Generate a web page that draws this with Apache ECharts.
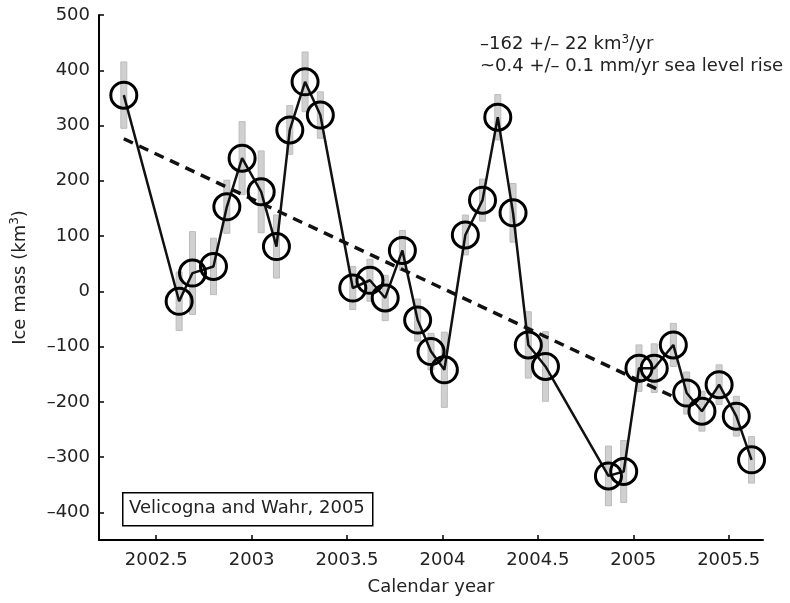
<!DOCTYPE html>
<html>
<head>
<meta charset="utf-8">
<script src="https://cdn.jsdelivr.net/npm/echarts@6/dist/echarts.min.js"></script>
<style>
html,body{margin:0;padding:0;background:#fff;}
#chart{width:790px;height:603px;}
</style>
</head>
<body>
<div id="chart"></div>
<script>
// ---- data ----
var years = [2002.33, 2002.62, 2002.69, 2002.80, 2002.87, 2002.95, 2003.05, 2003.13, 2003.20, 2003.28, 2003.36,
             2003.53, 2003.62, 2003.70, 2003.79, 2003.87, 2003.94, 2004.01, 2004.12, 2004.21, 2004.29, 2004.37,
             2004.45, 2004.54, 2004.87, 2004.95, 2005.03, 2005.11, 2005.21, 2005.28, 2005.36, 2005.45, 2005.54, 2005.62];
var mass = [355, -18, 33, 45, 153, 241, 180, 81, 292, 379, 319,
            6, 20, -12, 74, -52, -109, -142, 102, 165, 315, 142,
            -97, -136, -334, -326, -139, -139, -97, -184, -217, -169, -226, -305];
var errors = [60, 53, 75, 51, 48, 66, 74, 57, 44, 54, 42,
              39, 38, 41, 36, 38, 33, 68, 36, 38, 41, 53,
              60, 63, 54, 56, 42, 44, 39, 38, 36, 36, 36, 42];
var trendYears = [2002.33, 2005.2];
var trendMass = [276, -189];
var xTicks = [2002.5, 2003, 2003.5, 2004, 2004.5, 2005, 2005.5];
var xTickLabels = ['2002.5', '2003', '2003.5', '2004', '2004.5', '2005', '2005.5'];
var yTicks = [-400, -300, -200, -100, 0, 100, 200, 300, 400, 500];
var annotation1 = '\u2013162 +/\u2013 22 km{sup|3}/yr';
var annotation2 = '~0.4 +/\u2013 0.1 mm/yr sea level rise';
var sourceLabel = 'Velicogna and Wahr, 2005';

var FONT = 'DejaVu Sans';
var points = years.map(function (y, i) { return [y, mass[i]]; });
var bars = years.map(function (y, i) { return [y, mass[i] - errors[i], mass[i] + errors[i]]; });
var trend = trendYears.map(function (y, i) { return [y, trendMass[i]]; });

var chart = echarts.init(document.getElementById('chart'), null, {renderer: 'canvas'});
chart.setOption({
  backgroundColor: '#fff',
  animation: false,
  grid: {left: 99, right: 27, top: 15, bottom: 63, containLabel: false},
  xAxis: {
    type: 'value', min: 2002.2, max: 2005.68,
    name: 'Calendar year', nameLocation: 'middle', nameGap: 38,
    nameTextStyle: {fontFamily: FONT, fontSize: 18, color: '#222'},
    axisLine: {show: true, onZero: false, lineStyle: {color: '#000', width: 2}},
    axisTick: {show: true, inside: true, length: 5, customValues: xTicks, lineStyle: {color: '#000', width: 1.5}},
    axisLabel: {customValues: xTicks, margin: 11, fontFamily: FONT, fontSize: 18, color: '#222',
      formatter: function (v) { var i = xTicks.indexOf(v); return i >= 0 ? xTickLabels[i] : ''; }},
    splitLine: {show: false}
  },
  yAxis: {
    type: 'value', min: -450, max: 500,
    name: 'Ice mass (km{sup|3})', nameLocation: 'middle', nameGap: 68, nameRotate: 90,
    nameTextStyle: {fontFamily: FONT, fontSize: 18, color: '#222', lineHeight: 22, padding: [0, 0, 0, 0],
      rich: {sup: {fontFamily: FONT, fontSize: 12, color: '#222', verticalAlign: 'top', lineHeight: 22}}},
    axisLine: {show: true, onZero: false, lineStyle: {color: '#000', width: 2}},
    axisTick: {show: true, inside: true, length: 5, customValues: yTicks, lineStyle: {color: '#000', width: 1.5}},
    axisLabel: {customValues: yTicks, margin: 9, fontFamily: FONT, fontSize: 18, color: '#222',
      formatter: function (v) { return v < 0 ? '\u2013' + Math.abs(v) : String(v); }},
    splitLine: {show: false}
  },
  series: [
    {
      type: 'custom', z: 1,
      data: bars,
      renderItem: function (params, api) {
        var top = api.coord([api.value(0), api.value(2)]);
        var bot = api.coord([api.value(0), api.value(1)]);
        return {type: 'rect', shape: {x: top[0] - 3, y: top[1], width: 6, height: bot[1] - top[1]},
                style: {fill: '#d0d0d0', stroke: '#bcbcbc', lineWidth: 1}};
      },
      silent: true
    },
    {
      type: 'line', z: 2, data: trend, showSymbol: false, symbol: 'none',
      lineStyle: {color: '#111', width: 3.5, type: [10, 7]}, silent: true
    },
    {
      type: 'line', z: 3, data: points, symbol: 'circle', symbolSize: 26,
      lineStyle: {color: '#111', width: 2.5},
      itemStyle: {color: 'rgba(0,0,0,0)', borderColor: '#000', borderWidth: 3},
      silent: true
    }
  ],
  graphic: [
    {type: 'text', left: 480, top: 34, style: {text: annotation1, font: '18px "DejaVu Sans"', fill: '#222',
      rich: {sup: {fontFamily: FONT, fontSize: 12, fill: '#222', verticalAlign: 'top', lineHeight: 20}}}},
    {type: 'text', left: 480, top: 57, style: {text: annotation2, font: '18px "DejaVu Sans"', fill: '#222'}},
    {type: 'rect', left: 122, top: 492, shape: {width: 250, height: 33}, style: {fill: '#fff', stroke: '#000', lineWidth: 1.5}},
    {type: 'text', left: 129, top: 499, style: {text: sourceLabel, font: '18px "DejaVu Sans"', fill: '#222'}}
  ]
});
</script>
</body>
</html>
